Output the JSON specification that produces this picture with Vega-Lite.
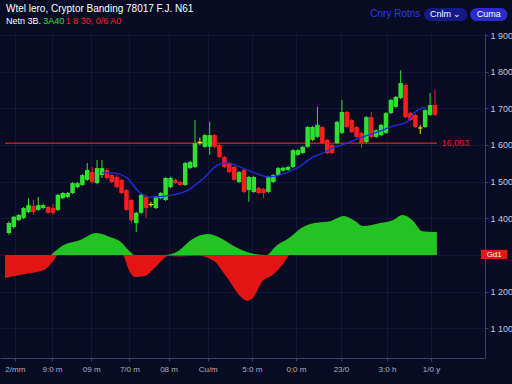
{
  "$schema": "https://vega.github.io/schema/vega-lite/v6.json",
  "width": 485,
  "height": 325,
  "autosize": {"type": "none"},
  "padding": {"left": 0, "top": 33, "right": 27, "bottom": 26},
  "background": "#080b24",
  "config": {"view": {"stroke": null}, "font": "Liberation Sans"},
  "resolve": {"axis": {"x": "independent", "y": "independent"}},
  "datasets": {
    "one": [{}],
    "candles": [
      {"t":0,"o":1360,"c":1387,"h":1392,"l":1355},
      {"t":1,"o":1376,"c":1404,"h":1407,"l":1372},
      {"t":2,"o":1395,"c":1409,"h":1412,"l":1392},
      {"t":3,"o":1401,"c":1428,"h":1431,"l":1398},
      {"t":4,"o":1417,"c":1436,"h":1455,"l":1414},
      {"t":5,"o":1434,"c":1417,"h":1450,"l":1410},
      {"t":6,"o":1423,"c":1436,"h":1458,"l":1420},
      {"t":7,"o":1428,"c":1436,"h":1440,"l":1425},
      {"t":8,"o":1431,"c":1415,"h":1434,"l":1412},
      {"t":9,"o":1428,"c":1415,"h":1440,"l":1409},
      {"t":10,"o":1423,"c":1464,"h":1467,"l":1420},
      {"t":11,"o":1455,"c":1469,"h":1472,"l":1452},
      {"t":12,"o":1458,"c":1469,"h":1472,"l":1455},
      {"t":13,"o":1469,"c":1496,"h":1499,"l":1466},
      {"t":14,"o":1485,"c":1496,"h":1499,"l":1482},
      {"t":15,"o":1491,"c":1518,"h":1521,"l":1488},
      {"t":16,"o":1505,"c":1532,"h":1551,"l":1502},
      {"t":17,"o":1526,"c":1499,"h":1540,"l":1496},
      {"t":18,"o":1496,"c":1537,"h":1559,"l":1493},
      {"t":19,"o":1518,"c":1537,"h":1559,"l":1510},
      {"t":20,"o":1532,"c":1510,"h":1537,"l":1505},
      {"t":21,"o":1518,"c":1499,"h":1521,"l":1496},
      {"t":22,"o":1513,"c":1485,"h":1518,"l":1482},
      {"t":23,"o":1505,"c":1469,"h":1508,"l":1466},
      {"t":24,"o":1477,"c":1423,"h":1480,"l":1420},
      {"t":25,"o":1450,"c":1395,"h":1453,"l":1387},
      {"t":26,"o":1387,"c":1415,"h":1418,"l":1363},
      {"t":27,"o":1415,"c":1464,"h":1467,"l":1412},
      {"t":28,"o":1458,"c":1428,"h":1462,"l":1401},
      {"t":29,"o":1436,"c":1439,"h":1445,"l":1430},
      {"t":30,"o":1428,"c":1458,"h":1461,"l":1425},
      {"t":31,"o":1455,"c":1469,"h":1472,"l":1452},
      {"t":32,"o":1450,"c":1510,"h":1513,"l":1447},
      {"t":33,"o":1485,"c":1510,"h":1513,"l":1482},
      {"t":34,"o":1505,"c":1496,"h":1508,"l":1493},
      {"t":35,"o":1499,"c":1491,"h":1502,"l":1488},
      {"t":36,"o":1491,"c":1551,"h":1554,"l":1488},
      {"t":37,"o":1537,"c":1554,"h":1557,"l":1534},
      {"t":38,"o":1540,"c":1605,"h":1668,"l":1537},
      {"t":39,"o":1605,"c":1609,"h":1620,"l":1600},
      {"t":40,"o":1595,"c":1627,"h":1630,"l":1592},
      {"t":41,"o":1595,"c":1627,"h":1663,"l":1573},
      {"t":42,"o":1627,"c":1595,"h":1630,"l":1592},
      {"t":43,"o":1600,"c":1567,"h":1603,"l":1564},
      {"t":44,"o":1567,"c":1540,"h":1570,"l":1537},
      {"t":45,"o":1551,"c":1526,"h":1554,"l":1523},
      {"t":46,"o":1540,"c":1505,"h":1543,"l":1502},
      {"t":47,"o":1499,"c":1526,"h":1529,"l":1496},
      {"t":48,"o":1532,"c":1472,"h":1535,"l":1469},
      {"t":49,"o":1477,"c":1513,"h":1516,"l":1445},
      {"t":50,"o":1472,"c":1513,"h":1516,"l":1469},
      {"t":51,"o":1483,"c":1469,"h":1486,"l":1466},
      {"t":52,"o":1480,"c":1469,"h":1483,"l":1455},
      {"t":53,"o":1472,"c":1513,"h":1516,"l":1469},
      {"t":54,"o":1499,"c":1518,"h":1521,"l":1496},
      {"t":55,"o":1518,"c":1537,"h":1540,"l":1515},
      {"t":56,"o":1530,"c":1538,"h":1541,"l":1527},
      {"t":57,"o":1532,"c":1540,"h":1543,"l":1529},
      {"t":58,"o":1540,"c":1586,"h":1589,"l":1537},
      {"t":59,"o":1573,"c":1586,"h":1589,"l":1570},
      {"t":60,"o":1578,"c":1595,"h":1598,"l":1575},
      {"t":61,"o":1595,"c":1649,"h":1652,"l":1592},
      {"t":62,"o":1614,"c":1649,"h":1652,"l":1611},
      {"t":63,"o":1622,"c":1655,"h":1704,"l":1619},
      {"t":64,"o":1649,"c":1605,"h":1652,"l":1602},
      {"t":65,"o":1614,"c":1578,"h":1617,"l":1575},
      {"t":66,"o":1600,"c":1578,"h":1603,"l":1575},
      {"t":67,"o":1605,"c":1663,"h":1666,"l":1602},
      {"t":68,"o":1633,"c":1690,"h":1723,"l":1630},
      {"t":69,"o":1690,"c":1649,"h":1693,"l":1646},
      {"t":70,"o":1668,"c":1635,"h":1671,"l":1632},
      {"t":71,"o":1649,"c":1622,"h":1652,"l":1619},
      {"t":72,"o":1633,"c":1605,"h":1636,"l":1592},
      {"t":73,"o":1608,"c":1676,"h":1679,"l":1605},
      {"t":74,"o":1676,"c":1622,"h":1690,"l":1619},
      {"t":75,"o":1622,"c":1640,"h":1643,"l":1619},
      {"t":76,"o":1627,"c":1655,"h":1658,"l":1624},
      {"t":77,"o":1633,"c":1687,"h":1690,"l":1630},
      {"t":78,"o":1687,"c":1723,"h":1726,"l":1684},
      {"t":79,"o":1704,"c":1731,"h":1734,"l":1701},
      {"t":80,"o":1728,"c":1769,"h":1804,"l":1725},
      {"t":81,"o":1764,"c":1676,"h":1767,"l":1673},
      {"t":82,"o":1687,"c":1668,"h":1690,"l":1665},
      {"t":83,"o":1682,"c":1649,"h":1685,"l":1646},
      {"t":84,"o":1645,"c":1648,"h":1655,"l":1630},
      {"t":85,"o":1649,"c":1695,"h":1698,"l":1646},
      {"t":86,"o":1682,"c":1709,"h":1742,"l":1679},
      {"t":87,"o":1709,"c":1682,"h":1750,"l":1679}
    ],
    "ma": [
      {"t":19,"m":1524},{"t":21,"m":1524},{"t":24,"m":1511},{"t":26.6,"m":1472},
      {"t":29,"m":1458},{"t":32.6,"m":1462},{"t":36.6,"m":1477},{"t":39.8,"m":1510},
      {"t":42.6,"m":1545},{"t":44.6,"m":1551},{"t":47.2,"m":1540},{"t":49.8,"m":1526},
      {"t":53.2,"m":1513},{"t":56.6,"m":1524},{"t":59.2,"m":1540},{"t":61.8,"m":1565},
      {"t":64.6,"m":1581},{"t":65.8,"m":1590},{"t":68.6,"m":1603},{"t":71.8,"m":1620},
      {"t":75.2,"m":1635},{"t":78.6,"m":1652},{"t":81.2,"m":1662},{"t":82.8,"m":1688},
      {"t":85.2,"m":1703}
    ],
    "osc": [
      {"t":-0.8,"v":1237,"s":"neg"},{"t":3.2,"v":1248,"s":"neg"},{"t":7.2,"v":1259,"s":"neg"},
      {"t":9.2,"v":1286,"s":"neg"},{"t":10,"v":1300,"s":"neg"},{"t":23.2,"v":1300,"s":"neg"},
      {"t":24.6,"v":1256,"s":"neg"},{"t":25.6,"v":1240,"s":"neg"},{"t":27.8,"v":1243,"s":"neg"},
      {"t":29.8,"v":1265,"s":"neg"},{"t":32.6,"v":1297,"s":"neg"},{"t":35,"v":1296,"s":"neg"},
      {"t":38.6,"v":1298,"s":"neg"},{"t":41.8,"v":1284,"s":"neg"},{"t":44.6,"v":1237,"s":"neg"},
      {"t":47.2,"v":1188,"s":"neg"},{"t":48.6,"v":1175,"s":"neg"},{"t":49.8,"v":1183,"s":"neg"},
      {"t":51.8,"v":1229,"s":"neg"},{"t":53.8,"v":1245,"s":"neg"},{"t":55.8,"v":1273,"s":"neg"},
      {"t":57.2,"v":1300,"s":"neg"},
      {"t":8.6,"v":1300,"s":"pos"},{"t":11.2,"v":1327,"s":"pos"},{"t":14.6,"v":1341,"s":"pos"},
      {"t":17.8,"v":1360,"s":"pos"},{"t":21.2,"v":1346,"s":"pos"},{"t":22.6,"v":1338,"s":"pos"},
      {"t":24.6,"v":1311,"s":"pos"},{"t":25.6,"v":1300,"s":"pos"},{"t":31.8,"v":1300,"s":"pos"},
      {"t":34.6,"v":1311,"s":"pos"},{"t":37.2,"v":1341,"s":"pos"},{"t":40.6,"v":1357,"s":"pos"},
      {"t":43.2,"v":1346,"s":"pos"},{"t":45.8,"v":1325,"s":"pos"},{"t":48.6,"v":1308,"s":"pos"},
      {"t":52.6,"v":1300,"s":"pos"},{"t":54.6,"v":1325,"s":"pos"},{"t":57.2,"v":1346,"s":"pos"},
      {"t":59.8,"v":1374,"s":"pos"},{"t":62.4,"v":1387,"s":"pos"},{"t":65.8,"v":1393,"s":"pos"},
      {"t":68.4,"v":1406,"s":"pos"},{"t":70.4,"v":1395,"s":"pos"},{"t":72.4,"v":1379,"s":"pos"},
      {"t":75.8,"v":1387,"s":"pos"},{"t":78.4,"v":1395,"s":"pos"},{"t":80.4,"v":1409,"s":"pos"},
      {"t":82.4,"v":1395,"s":"pos"},{"t":84.4,"v":1365,"s":"pos"},{"t":86.8,"v":1363,"s":"pos"},
      {"t":87.4,"v":1363,"s":"pos"}
    ]
  },
  "layer": [
    {
      "data": {"name": "osc"},
      "mark": {"type": "area", "interpolate": "monotone"},
      "encoding": {
        "x": {"field": "t", "type": "quantitative",
          "scale": {"domain": [-0.8, 96.2], "nice": false, "zero": false},
          "axis": {"orient": "bottom", "title": null, "grid": true, "gridColor": "#12173a",
            "values": [1.2, 8.8, 16.8, 24.6, 32.6, 40.6, 49.6, 58.6, 67.8, 77.2, 86.2],
            "labelExpr": "['2/mm','9:0 m','09 m','7/0 m','08 m','Cu/m','5:0 m','0:0 m','23/0','3:0 h','1/0 y'][indexof([1.2, 8.8, 16.8, 24.6, 32.6, 40.6, 49.6, 58.6, 67.8, 77.2, 86.2], datum.value)]",
            "domainColor": "#3b4168", "tickColor": "#3b4168", "tickSize": 3,
            "labelColor": "#aeb2c6", "labelFontSize": 8, "labelPadding": 4}},
        "y": {"field": "v", "type": "quantitative",
          "scale": {"domain": [1019, 1905.5], "nice": false, "zero": false},
          "axis": {"orient": "right", "title": null, "grid": true, "gridColor": "#12173a",
            "values": [1100, 1200, 1300, 1400, 1500, 1600, 1700, 1800, 1900],
            "labelExpr": "datum.value == 1300 ? '' : replace(format(datum.value, ','), ',', ' ')",
            "domainColor": "#3b4168", "tickColor": "#3b4168", "tickSize": 3,
            "labelColor": "#c4c8da", "labelFontSize": 9, "labelPadding": 2}},
        "y2": {"datum": 1300},
        "color": {"field": "s", "type": "nominal",
          "scale": {"domain": ["neg", "pos"], "range": ["#e31414", "#22c322"]}, "legend": null}
      }
    },
    {
      "data": {"name": "one"},
      "mark": {"type": "rule", "color": "#c01c1c", "strokeWidth": 1.5},
      "encoding": {
        "x": {"datum": -0.8, "type": "quantitative", "axis": null},
        "x2": {"datum": 87.4},
        "y": {"datum": 1605, "type": "quantitative", "axis": null}
      }
    },
    {
      "data": {"name": "candles"},
      "mark": {"type": "rule", "strokeWidth": 1},
      "encoding": {
        "x": {"field": "t", "type": "quantitative", "axis": null},
        "y": {"field": "l", "type": "quantitative", "axis": null, "scale": {"domain": [1019, 1905.5], "nice": false, "zero": false}},
        "y2": {"field": "h"},
        "color": {"condition": [{"test": "abs(datum.c - datum.o) < 5", "value": "#f2e21a"}, {"test": "datum.c >= datum.o", "value": "#2fe02f"}], "value": "#ff1c1c"}
      }
    },
    {
      "data": {"name": "candles"},
      "mark": {"type": "bar", "size": 4.5},
      "encoding": {
        "x": {"field": "t", "type": "quantitative", "axis": null},
        "y": {"field": "o", "type": "quantitative", "axis": null, "scale": {"domain": [1019, 1905.5], "nice": false, "zero": false}},
        "y2": {"field": "c"},
        "color": {"condition": [{"test": "abs(datum.c - datum.o) < 5", "value": "#f2e21a"}, {"test": "datum.c >= datum.o", "value": "#2fe02f"}], "value": "#ff1c1c"}
      }
    },
    {
      "data": {"name": "ma"},
      "mark": {"type": "line", "interpolate": "monotone", "color": "#1e2ee6", "strokeWidth": 1.3},
      "encoding": {
        "x": {"field": "t", "type": "quantitative", "axis": null},
        "y": {"field": "m", "type": "quantitative", "axis": null, "scale": {"domain": [1019, 1905.5], "nice": false, "zero": false}}
      }
    },
    {
      "data": {"name": "one"},
      "mark": {"type": "text", "text": "16,003", "color": "#e52222", "fontSize": 9, "align": "left", "baseline": "middle"},
      "encoding": {
        "x": {"datum": 88.4, "type": "quantitative", "axis": null},
        "y": {"datum": 1605, "type": "quantitative", "axis": null}
      }
    },
    {
      "data": {"name": "one"},
      "mark": {"type": "text", "text": "Wtel lero, Cryptor Banding 78017 F.J. N61", "color": "#ffffff", "fontSize": 10, "align": "left", "baseline": "middle"},
      "encoding": {
        "x": {"datum": -0.6, "type": "quantitative", "axis": null},
        "y": {"datum": 1971, "type": "quantitative", "axis": null}
      }
    },
    {
      "data": {"name": "one"},
      "mark": {"type": "text", "text": "Netn 3B.", "color": "#ffffff", "fontSize": 9, "align": "left", "baseline": "middle"},
      "encoding": {
        "x": {"datum": -0.6, "type": "quantitative", "axis": null},
        "y": {"datum": 1938, "type": "quantitative", "axis": null}
      }
    },
    {
      "data": {"name": "one"},
      "mark": {"type": "text", "text": "3A40", "color": "#2fe02f", "fontSize": 9, "align": "left", "baseline": "middle"},
      "encoding": {
        "x": {"datum": 7.0, "type": "quantitative", "axis": null},
        "y": {"datum": 1938, "type": "quantitative", "axis": null}
      }
    },
    {
      "data": {"name": "one"},
      "mark": {"type": "text", "text": "1 8 30, 0/6 A0", "color": "#ff2020", "fontSize": 9, "align": "left", "baseline": "middle"},
      "encoding": {
        "x": {"datum": 11.6, "type": "quantitative", "axis": null},
        "y": {"datum": 1938, "type": "quantitative", "axis": null}
      }
    },
    {
      "data": {"name": "one"},
      "mark": {"type": "text", "text": "Cnry Rotns", "color": "#2b3ce6", "fontSize": 10, "align": "center", "baseline": "middle"},
      "encoding": {
        "x": {"datum": 78.9, "type": "quantitative", "axis": null},
        "y": {"datum": 1958, "type": "quantitative", "axis": null}
      }
    },
    {
      "data": {"name": "one"},
      "mark": {"type": "rect", "color": "#151a86", "cornerRadius": 7},
      "encoding": {
        "x": {"datum": 84.8, "type": "quantitative", "axis": null},
        "x2": {"datum": 93.6},
        "y": {"datum": 1974, "type": "quantitative", "axis": null},
        "y2": {"datum": 1938}
      }
    },
    {
      "data": {"name": "one"},
      "mark": {"type": "rect", "color": "#2c2ccc", "cornerRadius": 7},
      "encoding": {
        "x": {"datum": 94.2, "type": "quantitative", "axis": null},
        "x2": {"datum": 101.8},
        "y": {"datum": 1974, "type": "quantitative", "axis": null},
        "y2": {"datum": 1938}
      }
    },
    {
      "data": {"name": "one"},
      "mark": {"type": "text", "text": "Cnlm ⌄", "color": "#ffffff", "fontSize": 9, "align": "center", "baseline": "middle"},
      "encoding": {
        "x": {"datum": 89.2, "type": "quantitative", "axis": null},
        "y": {"datum": 1956, "type": "quantitative", "axis": null}
      }
    },
    {
      "data": {"name": "one"},
      "mark": {"type": "text", "text": "Cuma", "color": "#ffffff", "fontSize": 9, "align": "center", "baseline": "middle"},
      "encoding": {
        "x": {"datum": 98, "type": "quantitative", "axis": null},
        "y": {"datum": 1956, "type": "quantitative", "axis": null}
      }
    },
    {
      "data": {"name": "one"},
      "mark": {"type": "rect", "color": "#e81616"},
      "encoding": {
        "x": {"datum": 96.4, "type": "quantitative", "axis": null},
        "x2": {"datum": 101.8},
        "y": {"datum": 1314, "type": "quantitative", "axis": null},
        "y2": {"datum": 1289}
      }
    },
    {
      "data": {"name": "one"},
      "mark": {"type": "text", "text": "Gd1", "color": "#ffffff", "fontSize": 8, "align": "center", "baseline": "middle"},
      "encoding": {
        "x": {"datum": 99.1, "type": "quantitative", "axis": null},
        "y": {"datum": 1301, "type": "quantitative", "axis": null}
      }
    }
  ]
}
